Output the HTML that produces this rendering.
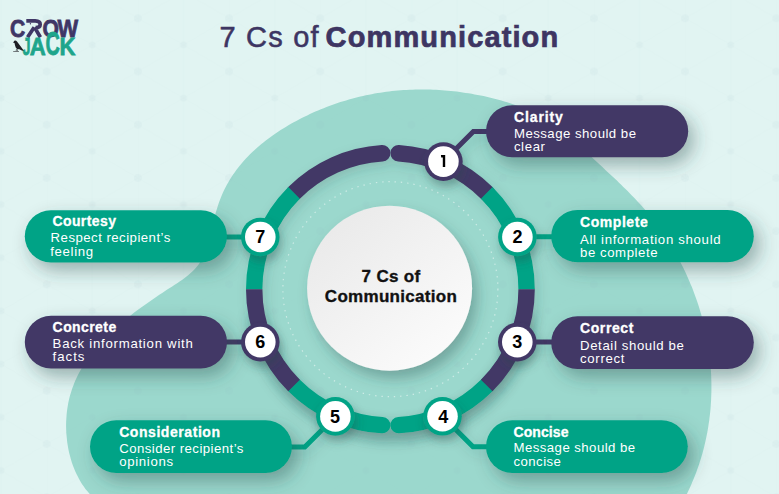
<!DOCTYPE html>
<html><head><meta charset="utf-8">
<style>
*{margin:0;padding:0;box-sizing:border-box}
html,body{width:779px;height:494px;overflow:hidden;background:#e1f4f2}
body{position:relative;font-family:"Liberation Sans",sans-serif}
svg{position:absolute;left:0;top:0}
.pt{position:absolute;color:#fff;white-space:nowrap}
.pt .h{font-weight:700;font-size:14px;letter-spacing:0.45px;line-height:15px;margin-top:5.5px}
.pt .b{font-size:13.2px;letter-spacing:0.42px;line-height:13px;margin-top:2.5px}
.nm{position:absolute;width:30px;text-align:center;font-weight:700;font-size:18px;line-height:20px;color:#000}
.title{position:absolute;left:219.5px;top:20.5px;font-size:29px;color:#3d3562;white-space:nowrap;letter-spacing:1.2px;-webkit-text-stroke:0.55px #3d3562}
.title b{font-weight:700;letter-spacing:1.12px;-webkit-text-stroke:0.7px #3d3562}
.ctext{position:absolute;left:291px;width:200px;text-align:center;top:266.5px;font-weight:700;font-size:17px;line-height:20.5px;color:#111;letter-spacing:0.3px;-webkit-text-stroke:0.35px #111}
</style></head><body>
<svg width="779" height="494" viewBox="0 0 779 494">
<defs>
<pattern id="lat" x="46.7" y="18.3" width="91.2" height="53.2" patternUnits="userSpaceOnUse">
<g stroke="#8aa" stroke-opacity="0.035" stroke-width="0.8" fill="none">
<line x1="0" y1="0" x2="91.2" y2="53.2"/><line x1="91.2" y1="0" x2="0" y2="53.2"/>
<line x1="0" y1="0" x2="0" y2="53.2"/><line x1="45.6" y1="0" x2="45.6" y2="53.2"/>
</g>
<g fill="#8ab" fill-opacity="0.06">
<circle cx="0" cy="0" r="4"/><circle cx="91.2" cy="0" r="4"/><circle cx="0" cy="53.2" r="4"/><circle cx="91.2" cy="53.2" r="4"/>
<circle cx="45.6" cy="26.6" r="3.5"/>
</g>
</pattern>
<filter id="sh" x="-20%" y="-40%" width="150%" height="200%">
<feGaussianBlur in="SourceAlpha" stdDeviation="9"/><feOffset dx="6" dy="8" result="b"/>
<feFlood flood-color="#284a48" flood-opacity="0.4"/><feComposite in2="b" operator="in"/>
<feMerge><feMergeNode/><feMergeNode in="SourceGraphic"/></feMerge>
</filter>
<filter id="shr" x="-20%" y="-20%" width="150%" height="150%">
<feGaussianBlur in="SourceAlpha" stdDeviation="7"/><feOffset dx="5" dy="8" result="b"/>
<feFlood flood-color="#284a48" flood-opacity="0.35"/><feComposite in2="b" operator="in"/>
<feMerge><feMergeNode/><feMergeNode in="SourceGraphic"/></feMerge>
</filter>
<linearGradient id="cg" x1="0.15" y1="0.1" x2="0.85" y2="0.9">
<stop offset="0" stop-color="#eaeaea"/><stop offset="1" stop-color="#fbfbfb"/>
</linearGradient>
<filter id="shring" x="-20%" y="-20%" width="150%" height="150%">
<feGaussianBlur in="SourceAlpha" stdDeviation="6"/><feOffset dx="3" dy="5" result="b"/>
<feFlood flood-color="#284a48" flood-opacity="0.18"/><feComposite in2="b" operator="in"/>
<feMerge><feMergeNode/><feMergeNode in="SourceGraphic"/></feMerge>
</filter>
<filter id="blur6" x="-20%" y="-20%" width="140%" height="140%"><feGaussianBlur stdDeviation="6"/></filter>
<filter id="shn" x="-50%" y="-50%" width="220%" height="220%">
<feGaussianBlur in="SourceAlpha" stdDeviation="5"/><feOffset dx="2" dy="6" result="b"/>
<feFlood flood-color="#284a48" flood-opacity="0.35"/><feComposite in2="b" operator="in"/>
<feMerge><feMergeNode/><feMergeNode in="SourceGraphic"/></feMerge>
</filter>
</defs>
<path d="M95.1,499.3 L93.0,497.4 L91.0,495.4 L89.1,493.3 L87.2,491.1 L85.4,488.9 L83.8,486.5 L82.1,484.2 L80.6,481.7 L79.2,479.2 L77.8,476.6 L76.5,473.9 L75.2,471.2 L74.1,468.5 L73.0,465.7 L72.0,462.9 L71.1,460.0 L70.3,457.1 L69.5,454.2 L68.8,451.2 L68.2,448.2 L67.7,445.2 L67.2,442.2 L66.9,439.1 L66.6,436.1 L66.3,433.0 L66.2,430.0 L66.1,426.9 L66.1,423.8 L66.2,420.8 L66.4,417.7 L66.6,414.7 L66.9,411.7 L67.3,408.7 L67.8,405.7 L68.3,402.8 L68.9,399.9 L69.6,397.0 L70.4,394.2 L71.3,391.4 L72.2,388.6 L73.2,385.9 L74.2,383.2 L75.3,380.5 L76.5,377.9 L77.8,375.3 L79.1,372.7 L80.5,370.2 L81.9,367.7 L83.4,365.2 L84.9,362.8 L86.6,360.4 L88.2,358.0 L89.9,355.7 L91.7,353.3 L93.5,351.0 L95.3,348.8 L97.2,346.5 L99.2,344.3 L101.2,342.1 L103.2,340.0 L105.2,337.8 L107.3,335.7 L109.5,333.6 L111.7,331.6 L113.9,329.5 L116.1,327.5 L118.3,325.5 L120.6,323.5 L123.0,321.6 L125.3,319.7 L127.7,317.8 L130.0,315.9 L132.4,314.0 L134.9,312.1 L137.3,310.3 L139.7,308.5 L142.2,306.7 L144.7,304.9 L147.2,303.2 L149.7,301.4 L152.2,299.7 L154.7,298.0 L157.2,296.3 L159.7,294.6 L162.2,292.9 L164.7,291.3 L167.2,289.6 L169.7,288.0 L172.2,286.4 L174.7,284.8 L177.2,283.2 L179.6,281.5 L182.0,279.9 L184.3,278.2 L186.5,276.4 L188.7,274.7 L190.9,272.8 L192.9,270.9 L194.8,269.0 L196.6,266.9 L198.4,264.8 L199.9,262.5 L201.4,260.2 L202.7,257.7 L204.0,255.2 L205.1,252.6 L206.1,249.9 L207.1,247.2 L208.0,244.4 L208.8,241.5 L209.6,238.6 L210.3,235.7 L211.0,232.7 L211.7,229.7 L212.4,226.7 L213.1,223.7 L213.8,220.7 L214.5,217.7 L215.2,214.7 L216.0,211.8 L216.9,208.9 L217.8,206.0 L218.7,203.2 L219.7,200.4 L220.8,197.7 L221.9,195.0 L223.1,192.3 L224.4,189.6 L225.7,187.0 L227.0,184.5 L228.5,181.9 L229.9,179.4 L231.5,177.0 L233.1,174.6 L234.8,172.2 L236.5,169.8 L238.3,167.5 L240.1,165.2 L242.0,163.0 L243.9,160.8 L245.9,158.6 L247.9,156.4 L250.0,154.3 L252.1,152.3 L254.3,150.2 L256.5,148.2 L258.8,146.3 L261.1,144.3 L263.4,142.4 L265.8,140.6 L268.2,138.7 L270.6,136.9 L273.0,135.2 L275.5,133.4 L278.1,131.8 L280.6,130.1 L283.2,128.5 L285.8,126.9 L288.4,125.3 L291.0,123.8 L293.7,122.3 L296.3,120.9 L299.0,119.4 L301.7,118.1 L304.4,116.7 L307.2,115.4 L309.9,114.1 L312.6,112.8 L315.4,111.6 L318.1,110.4 L320.9,109.3 L323.7,108.2 L326.5,107.1 L329.2,106.0 L332.0,105.0 L334.8,104.0 L337.6,103.1 L340.4,102.1 L343.3,101.3 L346.1,100.4 L348.9,99.6 L351.8,98.8 L354.6,98.0 L357.4,97.3 L360.3,96.6 L363.2,96.0 L366.0,95.3 L368.9,94.7 L371.8,94.2 L374.6,93.6 L377.5,93.1 L380.4,92.7 L383.3,92.2 L386.2,91.8 L389.1,91.5 L392.0,91.1 L394.9,90.8 L397.8,90.6 L400.8,90.3 L403.7,90.1 L406.6,89.9 L409.5,89.8 L412.5,89.7 L415.4,89.6 L418.3,89.5 L421.3,89.5 L424.2,89.5 L427.2,89.5 L430.1,89.6 L433.1,89.7 L436.0,89.8 L439.0,90.0 L442.0,90.2 L444.9,90.4 L447.9,90.7 L450.9,91.0 L453.8,91.3 L456.8,91.6 L459.8,92.0 L462.7,92.4 L465.7,92.9 L468.7,93.3 L471.7,93.8 L474.6,94.4 L477.6,94.9 L480.6,95.5 L483.6,96.1 L486.6,96.8 L489.5,97.5 L492.5,98.2 L495.5,98.9 L498.4,99.7 L501.4,100.5 L504.3,101.4 L507.2,102.3 L510.1,103.2 L513.0,104.2 L515.9,105.2 L518.8,106.2 L521.6,107.3 L524.4,108.4 L527.2,109.6 L529.9,110.8 L532.6,112.1 L535.3,113.4 L538.0,114.7 L540.6,116.1 L543.1,117.6 L545.7,119.1 L548.2,120.6 L550.6,122.2 L553.0,123.9 L555.4,125.5 L557.8,127.3 L560.1,129.0 L562.4,130.8 L564.6,132.6 L566.9,134.5 L569.1,136.4 L571.3,138.3 L573.5,140.2 L575.6,142.2 L577.8,144.1 L580.0,146.1 L582.1,148.1 L584.3,150.1 L586.4,152.1 L588.5,154.2 L590.7,156.2 L592.9,158.2 L595.0,160.2 L597.2,162.3 L599.4,164.3 L601.6,166.3 L603.7,168.3 L605.9,170.4 L608.1,172.4 L610.3,174.5 L612.5,176.5 L614.7,178.6 L616.9,180.6 L619.0,182.7 L621.2,184.8 L623.3,186.9 L625.5,189.0 L627.6,191.1 L629.7,193.2 L631.8,195.4 L633.9,197.5 L636.0,199.7 L638.0,201.9 L640.0,204.1 L642.0,206.3 L644.0,208.6 L646.0,210.8 L647.9,213.1 L649.8,215.4 L651.6,217.8 L653.5,220.1 L655.3,222.5 L657.1,224.9 L658.9,227.3 L660.6,229.7 L662.3,232.2 L664.0,234.6 L665.7,237.1 L667.3,239.6 L668.9,242.1 L670.5,244.7 L672.0,247.2 L673.5,249.8 L675.0,252.3 L676.5,254.9 L677.9,257.6 L679.4,260.2 L680.7,262.8 L682.1,265.5 L683.4,268.1 L684.7,270.8 L686.0,273.5 L687.2,276.2 L688.4,278.9 L689.6,281.7 L690.7,284.4 L691.9,287.1 L693.0,289.9 L694.0,292.7 L695.0,295.5 L696.0,298.3 L697.0,301.1 L698.0,303.9 L698.9,306.7 L699.7,309.5 L700.6,312.4 L701.4,315.2 L702.2,318.1 L702.9,321.0 L703.7,323.8 L704.4,326.7 L705.0,329.6 L705.7,332.5 L706.2,335.4 L706.8,338.3 L707.3,341.2 L707.8,344.1 L708.3,347.0 L708.8,350.0 L709.2,352.9 L709.5,355.8 L709.9,358.8 L710.2,361.7 L710.4,364.7 L710.7,367.6 L710.9,370.5 L711.1,373.5 L711.2,376.4 L711.3,379.4 L711.4,382.3 L711.4,385.3 L711.4,388.3 L711.4,391.2 L711.3,394.2 L711.2,397.1 L711.1,400.1 L710.9,403.0 L710.7,406.0 L710.5,408.9 L710.2,411.9 L709.9,414.8 L709.5,417.8 L709.2,420.7 L708.7,423.6 L708.3,426.6 L707.8,429.5 L707.3,432.4 L706.7,435.3 L706.1,438.2 L705.5,441.1 L704.8,444.0 L704.1,446.9 L703.4,449.8 L702.6,452.7 L701.8,455.6 L700.9,458.4 L700.0,461.3 L699.1,464.2 L698.1,467.0 L697.1,469.8 L696.1,472.7 L695.0,475.5 L693.9,478.3 L692.7,481.1 L691.5,483.9 L690.3,486.7 L689.0,489.4 L687.7,492.2 L686.4,494.9 L685.0,497.7 L683.5,500.4 Z" fill="#9bd8cd"/>
<rect width="779" height="494" fill="url(#lat)"/>
<circle cx="390.4" cy="289.2" r="107.5" fill="none" stroke="#fff" stroke-opacity="0.5" stroke-width="1.2" stroke-dasharray="1.4 4.9"/>
<circle cx="389.6" cy="288.2" r="82.5" fill="url(#cg)" filter="url(#shr)"/>
<path d="M524.53,312.85 A136.20,136.20 0 0 1 256.27,312.85" stroke="#284a48" stroke-opacity="0.28" stroke-width="18" fill="none" stroke-linecap="round" filter="url(#blur6)" transform="translate(1,8)"/>
<g filter="url(#shring)">
<path d="M398.60,153.25 A136.20,136.20 0 0 1 486.71,192.89" stroke="#423866" stroke-width="16.4" stroke-linecap="round" fill="none"/>
<path d="M486.71,385.51 A136.20,136.20 0 0 1 398.60,425.15" stroke="#05a386" stroke-width="16.4" stroke-linecap="round" fill="none"/>
<path d="M382.20,153.25 A136.20,136.20 0 0 0 294.09,192.89" stroke="#423866" stroke-width="16.4" stroke-linecap="round" fill="none"/>
<path d="M294.09,385.51 A136.20,136.20 0 0 0 382.20,425.15" stroke="#05a386" stroke-width="16.4" stroke-linecap="round" fill="none"/>
<path d="M486.71,192.89 A136.20,136.20 0 0 1 526.60,289.20" stroke="#05a386" stroke-width="16.4" stroke-linecap="butt" fill="none"/>
<path d="M526.60,289.20 A136.20,136.20 0 0 1 486.71,385.51" stroke="#423866" stroke-width="16.4" stroke-linecap="butt" fill="none"/>
<path d="M294.09,192.89 A136.20,136.20 0 0 0 254.20,289.20" stroke="#05a386" stroke-width="16.4" stroke-linecap="butt" fill="none"/>
<path d="M254.20,289.20 A136.20,136.20 0 0 0 294.09,385.51" stroke="#423866" stroke-width="16.4" stroke-linecap="butt" fill="none"/>
<polyline points="443.4,161.6 473.4,131.6 500.0,131.6" stroke="#423866" stroke-width="5.0" fill="none" stroke-linejoin="miter"/>
<polyline points="517.4,236.7 560.0,236.7" stroke="#05a386" stroke-width="5.0" fill="none" stroke-linejoin="miter"/>
<polyline points="517.3,342.1 560.0,342.1" stroke="#423866" stroke-width="5.0" fill="none" stroke-linejoin="miter"/>
<polyline points="442.5,416.3 473.0,446.8 500.0,446.8" stroke="#05a386" stroke-width="5.0" fill="none" stroke-linejoin="miter"/>
<polyline points="335.4,416.4 304.8,447.0 280.0,447.0" stroke="#05a386" stroke-width="5.0" fill="none" stroke-linejoin="miter"/>
<polyline points="260.3,342.1 215.0,342.1" stroke="#423866" stroke-width="5.0" fill="none" stroke-linejoin="miter"/>
<polyline points="260.3,237.0 215.0,237.0" stroke="#05a386" stroke-width="5.0" fill="none" stroke-linejoin="miter"/>
</g>
<g filter="url(#shn)">
<circle cx="443.4" cy="161.6" r="19.3" fill="#423866"/><circle cx="443.4" cy="161.6" r="15.3" fill="#fff"/>
<circle cx="517.4" cy="237.0" r="19.3" fill="#05a386"/><circle cx="517.4" cy="237.0" r="15.3" fill="#fff"/>
<circle cx="517.3" cy="342.1" r="19.3" fill="#423866"/><circle cx="517.3" cy="342.1" r="15.3" fill="#fff"/>
<circle cx="442.5" cy="416.3" r="19.3" fill="#05a386"/><circle cx="442.5" cy="416.3" r="15.3" fill="#fff"/>
<circle cx="335.4" cy="416.4" r="19.3" fill="#05a386"/><circle cx="335.4" cy="416.4" r="15.3" fill="#fff"/>
<circle cx="260.3" cy="342.1" r="19.3" fill="#423866"/><circle cx="260.3" cy="342.1" r="15.3" fill="#fff"/>
<circle cx="260.3" cy="237.0" r="19.3" fill="#05a386"/><circle cx="260.3" cy="237.0" r="15.3" fill="#fff"/>
</g>
<rect x="486.0" y="105.2" width="202.2" height="52.0" rx="26.0" fill="#423866" filter="url(#sh)"/>
<rect x="551.2" y="210.0" width="202.6" height="52.3" rx="26.2" fill="#05a386" filter="url(#sh)"/>
<rect x="551.2" y="316.2" width="202.6" height="52.7" rx="26.3" fill="#423866" filter="url(#sh)"/>
<rect x="486.0" y="420.2" width="201.8" height="52.7" rx="26.3" fill="#05a386" filter="url(#sh)"/>
<rect x="90.0" y="420.2" width="202.0" height="52.7" rx="26.3" fill="#05a386" filter="url(#sh)"/>
<rect x="24.8" y="315.8" width="202.2" height="52.6" rx="26.3" fill="#423866" filter="url(#sh)"/>
<rect x="24.8" y="210.2" width="202.2" height="52.2" rx="26.1" fill="#05a386" filter="url(#sh)"/>
</svg>
<svg width="779" height="494" style="position:absolute;left:0;top:0" font-family="Liberation Sans" fill="#fff">
<text x="513.90" y="122.2" font-size="14.0" font-weight="700" textLength="49.00" lengthAdjust="spacing" stroke="#fff" stroke-width="0.3">Clarity</text>
<text x="513.90" y="137.7" font-size="13.2" font-weight="400" textLength="122.10" lengthAdjust="spacing">Message should be</text>
<text x="513.90" y="150.6" font-size="13.2" font-weight="400" textLength="31.10" lengthAdjust="spacing">clear</text>
<text x="580.00" y="227.4" font-size="14.0" font-weight="700" textLength="67.70" lengthAdjust="spacing" stroke="#fff" stroke-width="0.3">Complete</text>
<text x="580.00" y="243.8" font-size="13.2" font-weight="400" textLength="140.60" lengthAdjust="spacing">All information should</text>
<text x="580.00" y="257.2" font-size="13.2" font-weight="400" textLength="77.50" lengthAdjust="spacing">be complete</text>
<text x="580.00" y="333.0" font-size="14.0" font-weight="700" textLength="53.40" lengthAdjust="spacing" stroke="#fff" stroke-width="0.3">Correct</text>
<text x="580.00" y="349.7" font-size="13.2" font-weight="400" textLength="103.90" lengthAdjust="spacing">Detail should be</text>
<text x="580.00" y="363.4" font-size="13.2" font-weight="400" textLength="44.50" lengthAdjust="spacing">correct</text>
<text x="513.50" y="436.7" font-size="14.0" font-weight="700" textLength="55.00" lengthAdjust="spacing" stroke="#fff" stroke-width="0.3">Concise</text>
<text x="513.50" y="452.0" font-size="13.2" font-weight="400" textLength="121.60" lengthAdjust="spacing">Message should be</text>
<text x="513.50" y="465.7" font-size="13.2" font-weight="400" textLength="47.40" lengthAdjust="spacing">concise</text>
<text x="119.20" y="436.7" font-size="14.0" font-weight="700" textLength="100.80" lengthAdjust="spacing" stroke="#fff" stroke-width="0.3">Consideration</text>
<text x="119.20" y="452.9" font-size="13.2" font-weight="400" textLength="124.20" lengthAdjust="spacing">Consider recipient’s</text>
<text x="119.20" y="466.0" font-size="13.2" font-weight="400" textLength="53.80" lengthAdjust="spacing">opinions</text>
<text x="52.60" y="332.4" font-size="14.0" font-weight="700" textLength="63.60" lengthAdjust="spacing" stroke="#fff" stroke-width="0.3">Concrete</text>
<text x="52.60" y="348.2" font-size="13.2" font-weight="400" textLength="140.20" lengthAdjust="spacing">Back information with</text>
<text x="52.60" y="361.3" font-size="13.2" font-weight="400" textLength="31.80" lengthAdjust="spacing">facts</text>
<text x="52.40" y="226.4" font-size="14.0" font-weight="700" textLength="63.60" lengthAdjust="spacing" stroke="#fff" stroke-width="0.3">Courtesy</text>
<text x="50.60" y="241.7" font-size="13.2" font-weight="400" textLength="119.70" lengthAdjust="spacing">Respect recipient’s</text>
<text x="50.20" y="256.0" font-size="13.2" font-weight="400" textLength="43.00" lengthAdjust="spacing">feeling</text>
</svg>

<div class="nm" style="left:502.4px;top:226.7px">2</div><div class="nm" style="left:502.3px;top:331.8px">3</div><div class="nm" style="left:428.2px;top:406.7px">4</div><div class="nm" style="left:320.1px;top:406.9px">5</div><div class="nm" style="left:245.3px;top:331.8px">6</div><div class="nm" style="left:245.3px;top:226.7px">7</div><svg width="779" height="494" style="position:absolute;left:0;top:0"><path d="M440.9,155.1 L445.2,155.1 L445.2,166.9 L442.8,166.9 L442.8,157.6 L441.2,157.6 Z" fill="#000"/></svg>
<svg width="90" height="62" viewBox="0 0 90 62" style="position:absolute;left:0;top:0">
<g font-family="Liberation Sans" font-weight="700">
<text x="9.9" y="37.2" font-size="24.7" fill="#3f3665" stroke="#3f3665" stroke-width="0.8" textLength="15.2" lengthAdjust="spacingAndGlyphs">C</text>
<text x="42.6" y="37.2" font-size="24.7" fill="#3f3665" stroke="#3f3665" stroke-width="0.8" textLength="16.4" lengthAdjust="spacingAndGlyphs">O</text>
<text x="57.6" y="37.2" font-size="24.7" fill="#3f3665" stroke="#3f3665" stroke-width="0.8" textLength="20.6" lengthAdjust="spacingAndGlyphs">W</text>
<path d="M26.3,20.9 L35.2,20.9 Q40.2,21.1 40.2,24.4 Q40.2,27.4 35.6,27.7 M27.6,37.2 L34.2,27.2 M34.6,27.4 L40.4,37.2" stroke="#3f3665" stroke-width="3.7" fill="none"/>
<circle cx="30.4" cy="23.8" r="0.7" fill="#3f3665"/>
<rect x="20" y="37.2" width="60" height="20" fill="#fff" opacity="0"/>
<text x="22.6" y="55.2" font-size="24.7" fill="#1ea58b" stroke="#1ea58b" stroke-width="0.8" textLength="8" lengthAdjust="spacingAndGlyphs">J</text>
<text x="29.8" y="55.2" font-size="24.7" fill="#1ea58b" stroke="#1ea58b" stroke-width="0.8" textLength="16" lengthAdjust="spacingAndGlyphs">A</text>
<text x="45.6" y="55.2" font-size="33.5" fill="#1ea58b" stroke="#1ea58b" stroke-width="0.8" textLength="14.4" lengthAdjust="spacingAndGlyphs">C</text>
<text x="59.4" y="55.2" font-size="24.7" fill="#1ea58b" stroke="#1ea58b" stroke-width="0.8" textLength="16" lengthAdjust="spacingAndGlyphs">K</text>
</g>
<path d="M13.1,42.8 L14.3,40.7 Q15.9,40.0 17.0,41.6 L23.9,50.8 L21.8,50.4 L19.4,49.3 Q16.8,49.4 15.7,47.4 Q14.9,45.2 14.5,43.0 Z" fill="#1e1e24"/>
<path d="M16.6,48.8 L16.1,51.3 M17.6,49.2 L17.3,51.3 M13.2,51.5 L19,51.5" stroke="#1e1e24" stroke-width="0.7" opacity="0.8"/>
</svg>
<div class="title">7 Cs of</div><div class="title" style="left:325.6px"><b>Communication</b></div>
<div class="ctext">7 Cs of<br>Communication</div>
</body></html>
